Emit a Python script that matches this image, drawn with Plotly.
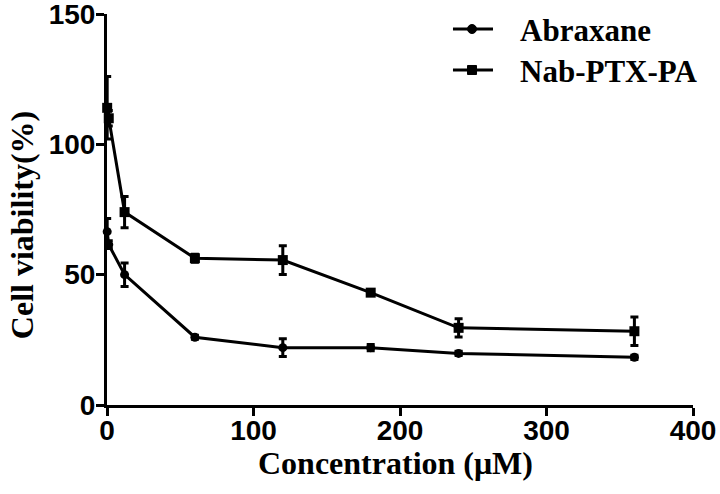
import plotly.graph_objects as go

concentration = [0.12, 1.2, 12, 60, 120, 180, 240, 360]
abraxane = [66.5, 61.5, 50, 26, 22, 22, 19.8, 18.3]
abraxane_err = [5, 1.5, 4.5, 0.8, 3.4, 1.2, 0.8, 0.8]
nab_ptx_pa = [114, 110, 74, 56.3, 55.6, 43.1, 29.6, 28.3]
nab_ptx_pa_err = [12, 3, 6, 1.5, 5.5, 1, 3.5, 5.5]
series_names = ["Abraxane", "Nab-PTX-PA"]

x_ticks = [0, 100, 200, 300, 400]
y_ticks = [0, 50, 100, 150]

serif = "Liberation Serif, Times New Roman, serif"
sans = "Liberation Sans, Arial, sans-serif"

fig = go.Figure()
fig.add_trace(go.Scatter(
    x=concentration, y=abraxane, name=series_names[0], mode="lines+markers",
    line=dict(color="black", width=3),
    marker=dict(symbol="circle", size=9, color="black"),
    error_y=dict(type="data", array=abraxane_err, color="black", thickness=3, width=4),
    cliponaxis=False, showlegend=False,
))
fig.add_trace(go.Scatter(
    x=concentration, y=nab_ptx_pa, name=series_names[1], mode="lines+markers",
    line=dict(color="black", width=3),
    marker=dict(symbol="square", size=10, color="black"),
    error_y=dict(type="data", array=nab_ptx_pa_err, color="black", thickness=3, width=4),
    cliponaxis=False, showlegend=False,
))

axis_common = dict(
    showline=True, linecolor="black", linewidth=3, mirror=False,
    ticks="outside", ticklen=8, tickwidth=3, tickcolor="black",
    showgrid=False, zeroline=False, automargin=False,
    ticklabeloverflow="allow",
    tickfont=dict(family=sans, size=28, color="black", weight="bold"),
)

# legend drawn as shapes + text (positions in plot-paper fractions)
legend_rows = [(0.9616, "circle"), (0.8568, "rect")]
shapes = []
annotations = []
for (ly, sym), name in zip(legend_rows, series_names):
    shapes.append(dict(type="line", xref="paper", yref="paper",
                       x0=0.5904, x1=0.6587, y0=ly, y1=ly,
                       line=dict(color="black", width=3)))
    shapes.append(dict(type=sym, xref="paper", yref="paper",
                       xsizemode="pixel", ysizemode="pixel",
                       xanchor=0.6229, yanchor=ly,
                       x0=-4.5, x1=4.5, y0=-4.5, y1=4.5,
                       fillcolor="black", line=dict(color="black", width=1)))
    annotations.append(dict(text=name, xref="paper", yref="paper",
                            x=0.7014, y=ly - 0.004, xanchor="left", yanchor="middle",
                            showarrow=False,
                            font=dict(family=serif, size=31, color="black", weight="bold")))

annotations += [
    dict(text="Concentration (μM)", xref="paper", yref="paper",
         x=0.493, y=-0.148, xanchor="center", yanchor="middle", showarrow=False,
         font=dict(family=serif, size=32, color="black", weight="bold")),
    dict(text="Cell viability(%)", xref="paper", yref="paper",
         x=-0.145, y=0.46, xanchor="center", yanchor="middle", showarrow=False,
         textangle=-90,
         font=dict(family=serif, size=32, color="black", weight="bold")),
]

fig.update_layout(
    width=720, height=494,
    margin=dict(l=107, r=27, t=14, b=89),
    paper_bgcolor="white", plot_bgcolor="white",
    xaxis=dict(range=[0, 400], tickvals=x_ticks, ticklabelstandoff=-10, **axis_common),
    yaxis=dict(range=[0, 150], tickvals=y_ticks, ticklabelstandoff=-5, **axis_common),
    showlegend=False,
    shapes=shapes,
    annotations=annotations,
)

# remove the default 8px page margin so the figure fills the 720x494 window exactly
fig.write_html("out.html", config={"displayModeBar": False},
               post_script="document.body.style.margin='0px';")
